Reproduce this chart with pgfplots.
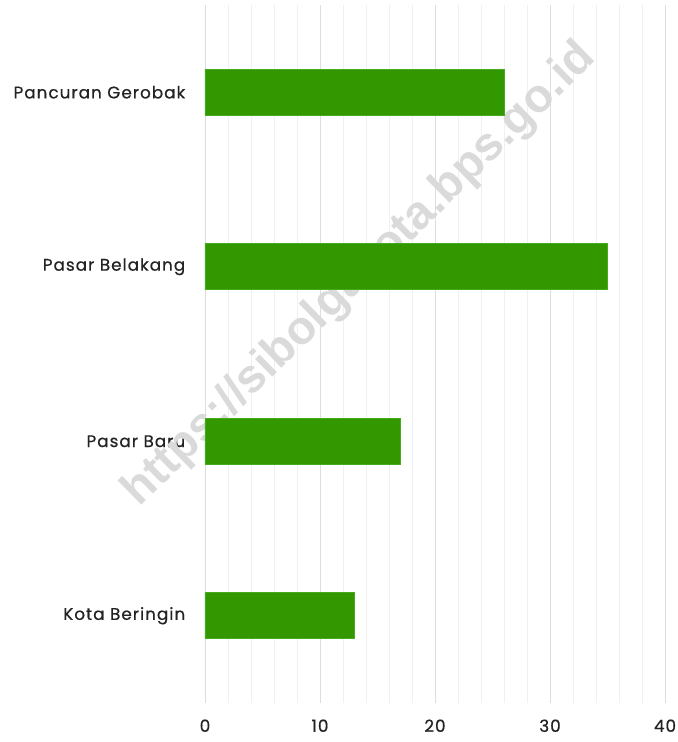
\documentclass[border=0pt]{standalone}
\usepackage{pgfplots}
\pgfplotsset{compat=1.18}
\usepackage{fontspec}
\setmainfont{Poppins}
\newfontfamily\labfont{Poppins}[LetterSpace=6, FakeBold=0.6]
\newfontfamily\wmfont{Liberation Sans}
\definecolor{bargreen}{RGB}{51,151,0}
\definecolor{bargedge}{RGB}{70,170,30}
\definecolor{majgrid}{RGB}{222,222,222}
\definecolor{mingrid}{RGB}{240,240,240}
\definecolor{txt}{RGB}{35,35,35}
\definecolor{wm}{RGB}{218,218,218}
\begin{document}
\begin{tikzpicture}
\path[use as bounding box] (-205bp,-39bp) rectangle (473bp,703bp);
\begin{axis}[
  scale only axis,
  width=460bp, height=698bp,
  xmin=0, xmax=40,
  ymin=-0.5, ymax=3.5,
  xbar, bar width=46bp,
  xtick={0,10,20,30,40},
  minor x tick num=4,
  xmajorgrids, xminorgrids,
  major grid style={majgrid, line width=0.8bp},
  minor grid style={mingrid, line width=0.8bp},
  major x tick style={draw=none}, minor x tick style={draw=none},
  ytick={0,1,2,3},
  yticklabels={Kota Beringin, Pasar Baru, Pasar Belakang, Pancuran Gerobak},
  major y tick style={draw=none},
  extra y ticks={-0.5,0.5,1.5,2.5,3.5},
  extra y tick labels={},
  extra y tick style={major tick length=8bp, tick align=outside, tick style={majgrid, line width=0.8bp}, grid=none},
  axis x line*=bottom, x axis line style={draw=none},
  axis y line*=left, y axis line style={majgrid, line width=0.8bp},
  every tick label/.append style={font=\labfont\fontsize{16.8bp}{18bp}\selectfont, text=txt},
  yticklabel style={xshift=-12bp},
  xticklabel style={yshift=-13bp},
  /pgf/number format/assume math mode=true,
  clip=false,
]
\node[rotate=44.4, text=wm, font=\wmfont\bfseries\fontsize{47bp}{50bp}\selectfont] at (axis cs:13.48,1.953) {https://sibolgakota.bps.go.id};
\addplot[fill=bargreen, draw=bargedge, line width=0.5bp] coordinates {(13,0) (17,1) (35,2) (26,3)};
\end{axis}
\end{tikzpicture}
\end{document}
